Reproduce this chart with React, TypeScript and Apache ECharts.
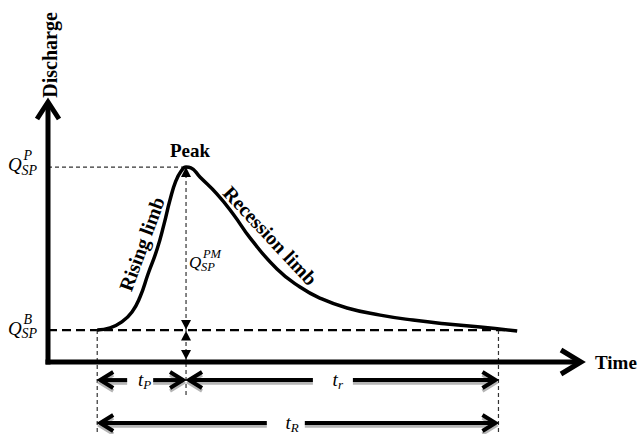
import React, { useEffect, useRef } from "react";
import * as echarts from "echarts";

// ---- Data (time and discharge in arbitrary units) ----
const curveTime = [9.2, 11.6, 13.8, 15.7, 17.2, 18.7, 20.4, 21.7, 22.8, 23.9, 24.9, 25.8, 26.7, 28.4, 31.6, 34.6, 37.8, 42.8, 47.1, 50.8, 55.9, 62.1, 68.2, 74.6, 80.8, 87.7];
const curveDischarge = [12.2, 13.0, 15.3, 19.1, 24.8, 33.6, 43.1, 52.7, 61.8, 69.1, 72.9, 74.4, 74.1, 70.6, 64.1, 56.5, 47.3, 35.5, 28.6, 24.4, 20.6, 17.9, 16.0, 14.5, 13.4, 11.8];

const baseDischarge = 12.2;
const peakDischarge = 74.4;
const peakTime = 25.8;
const riseStartTime = 9.2;
const recessionEndTime = 84.2;
const axisMax = 100;

const axisTitles = ["Discharge", "Time"];
const curveLabels = ["Peak", "Rising limb", "Recession limb"];
const dischargeLabelSup = ["P", "B", "PM"];
const dischargeLabelSub = ["SP", "SP", "SP"];

const durationSubs = ["P", "r", "R"];
const durationStart = [riseStartTime, peakTime, riseStartTime];
const durationEnd = [peakTime, recessionEndTime, recessionEndTime];

// ---- styling / layout helpers ----
const SERIF = '"Liberation Serif", "Times New Roman", serif';
const durationLevel = [-6.9, -6.9, -23.3];
const durationLabelTime = [17.6, 54.0, 45.2];
const durationGapLeft = [15, 24, 23];
const durationGapRight = [11, 16, 15];

type Pt = number[];

const seg = (a: Pt, b: Pt, style: any) => ({
  type: "line",
  shape: { x1: a[0], y1: a[1], x2: b[0], y2: b[1] },
  style,
});

const chevron = (tip: Pt, dir: Pt, back: number, half: number): Pt[] => {
  const [dx, dy] = dir;
  const nx = -dy;
  const ny = dx;
  return [
    [tip[0] - dx * back + nx * half, tip[1] - dy * back + ny * half],
    [tip[0], tip[1]],
    [tip[0] - dx * back - nx * half, tip[1] - dy * back - ny * half],
  ];
};

const txt = (s: string, x: number, y: number, o: any = {}) => ({
  type: "text",
  x,
  y,
  rotation: o.rotation || 0,
  style: {
    text: s,
    fill: "#000",
    fontFamily: SERIF,
    fontSize: o.size || 18,
    fontWeight: o.weight || "normal",
    fontStyle: o.fontStyle || "normal",
    align: o.align || "center",
    verticalAlign: o.va || "middle",
    textAlign: o.align || "center",
    textVerticalAlign: o.va || "middle",
  },
});

const qLabel = (x: number, y: number, sup: string, sub: string, big: number) => {
  const s = big / 19;
  const small = 14 * s;
  return [
    txt("Q", x, y, { size: big, fontStyle: "italic", align: "left" }),
    txt(sup, x + 15.5 * s, y - 9 * s, { size: small, fontStyle: "italic", align: "left" }),
    txt(sub, x + 13.5 * s, y + 5.5 * s, { size: small, fontStyle: "italic", align: "left" }),
  ];
};

function renderGuides(_params: any, api: any) {
  const p = (t: number, q: number): Pt => api.coord([t, q]);
  const thin = { stroke: "#333", lineWidth: 1.2, lineDash: [4, 3] };
  const lastT = curveTime[curveTime.length - 1];
  return {
    type: "group",
    children: [
      seg(p(0, peakDischarge), p(peakTime, peakDischarge), thin),
      seg(p(0, baseDischarge), p(lastT - 1, baseDischarge), { stroke: "#000", lineWidth: 2.2, lineDash: [9, 5] }),
      seg(p(riseStartTime, baseDischarge), p(riseStartTime, -27), thin),
      seg(p(peakTime, peakDischarge), p(peakTime, -12.6), thin),
      seg(p(recessionEndTime, baseDischarge), p(recessionEndTime, -27), thin),
    ],
  };
}

function renderAnnotations(_params: any, api: any) {
  const p = (t: number, q: number): Pt => api.coord([t, q]);
  const children: any[] = [];
  const axisStyle = { stroke: "#000", lineWidth: 5, lineJoin: "miter", lineCap: "butt", fill: null };

  // axes with open arrowheads
  const o = p(0, 0);
  const yTop = p(0, axisMax);
  const xEnd = p(axisMax, 0);
  children.push(seg([o[0], o[1] + 2.5], [yTop[0], yTop[1] + 2], axisStyle));
  children.push({ type: "polyline", shape: { points: chevron([yTop[0], yTop[1] + 2], [0, -1], 17, 11) }, style: axisStyle });
  children.push(seg([o[0] - 2.5, o[1]], [xEnd[0] - 2, xEnd[1]], axisStyle));
  children.push({ type: "polyline", shape: { points: chevron([xEnd[0] - 2, xEnd[1]], [1, 0], 20, 12) }, style: axisStyle });

  // axis titles
  children.push(txt(axisTitles[0], yTop[0] + 2, yTop[1] - 45, { size: 20, weight: "bold", rotation: Math.PI / 2 }));
  children.push(txt(axisTitles[1], xEnd[0] + 12, xEnd[1], { size: 19, weight: "bold", align: "left" }));

  // curve labels
  const pk = p(peakTime, peakDischarge);
  children.push(txt(curveLabels[0], pk[0] + 4, pk[1] - 17, { size: 19, weight: "bold" }));
  const rl = p(17.8, 44.7);
  children.push(txt(curveLabels[1], rl[0] - 1.5, rl[1] - 1, { size: 20, weight: "bold", rotation: (70 * Math.PI) / 180 }));
  const rc = p(40.9, 46.9);
  children.push(txt(curveLabels[2], rc[0] + 3.5, rc[1] - 3.5, { size: 20, weight: "bold", rotation: (-47 * Math.PI) / 180 }));

  // discharge labels
  const qp = p(0, peakDischarge);
  children.push(...qLabel(qp[0] - 40, qp[1] - 2.5, dischargeLabelSup[0], dischargeLabelSub[0], 19));
  const qb = p(0, baseDischarge);
  children.push(...qLabel(qb[0] - 40, qb[1] - 2, dischargeLabelSup[1], dischargeLabelSub[1], 19));
  const qm = p(peakTime, 38);
  children.push(...qLabel(qm[0] + 3, qm[1], dischargeLabelSup[2], dischargeLabelSub[2], 17));

  // small filled triangles on the peak-magnitude line
  const b = p(peakTime, baseDischarge);
  const tri = (pts: Pt[]) => ({ type: "polygon", shape: { points: pts }, style: { fill: "#000" } });
  children.push(tri([[pk[0], pk[1]], [pk[0] - 5, pk[1] + 10], [pk[0] + 5, pk[1] + 10]]));
  children.push(tri([[b[0], b[1] - 0.5], [b[0] - 5, b[1] - 10], [b[0] + 5, b[1] - 10]]));
  children.push(tri([[b[0], b[1] + 1], [b[0] - 5, b[1] + 10.5], [b[0] + 5, b[1] + 10.5]]));
  const ax = p(peakTime, 0);
  children.push(tri([[ax[0], ax[1] - 2.5], [ax[0] - 5, ax[1] - 12], [ax[0] + 5, ax[1] - 12]]));

  // duration arrows (with a soft grey drop shadow drawn underneath)
  const arrowStyle = { stroke: "#000", lineWidth: 4, lineJoin: "miter", lineCap: "butt", fill: null };
  const shadowStyle = { stroke: "#b5b5b5", lineWidth: 3.5, lineJoin: "miter", lineCap: "butt", fill: null };
  const shift = (pts: Pt[], d: number) => pts.map((q) => [q[0], q[1] + d]);
  for (let i = 0; i < durationSubs.length; i++) {
    const y = p(0, durationLevel[i])[1];
    const x1 = p(durationStart[i], 0)[0];
    const x2 = p(durationEnd[i], 0)[0];
    const xs = p(durationLabelTime[i], 0)[0];
    const leftShaft = [[xs - durationGapLeft[i], y], [x1 + 3, y]];
    const rightShaft = [[xs + durationGapRight[i], y], [x2 - 3, y]];
    const leftHead = chevron([x1 + 3, y], [-1, 0], 13, 8);
    const rightHead = chevron([x2 - 3, y], [1, 0], 13, 8);
    for (const pts of [leftShaft, rightShaft, leftHead, rightHead]) {
      children.push({ type: "polyline", shape: { points: shift(pts, 3) }, style: shadowStyle });
    }
    for (const pts of [leftShaft, rightShaft, leftHead, rightHead]) {
      children.push({ type: "polyline", shape: { points: pts }, style: arrowStyle });
    }
    children.push(txt("t", xs + 1, y - 1, { size: 19, fontStyle: "italic", align: "right" }));
    children.push(txt(durationSubs[i], xs + 1, y + 4, { size: 13, fontStyle: "italic", align: "left" }));
  }

  return { type: "group", children };
}

export default function App() {
  const ref = useRef<HTMLDivElement>(null);
  useEffect(() => {
    const chart = echarts.init(ref.current as HTMLDivElement, null, { renderer: "svg" });
    chart.setOption({
      animation: false,
      backgroundColor: "#ffffff",
      grid: { left: 48, right: 57, top: 100, bottom: 72 },
      xAxis: { type: "value", min: 0, max: axisMax, show: false },
      yAxis: { type: "value", min: 0, max: axisMax, show: false },
      series: [
        { type: "custom", name: "guides", renderItem: renderGuides, data: [[0, 0]], z: 1, silent: true, clip: false },
        {
          type: "line",
          name: "Hydrograph",
          data: curveTime.map((t, i) => [t, curveDischarge[i]]),
          smooth: 0.5,
          symbol: "none",
          showSymbol: false,
          silent: true,
          z: 2,
          lineStyle: { color: "#000", width: 3.5, join: "round" },
        },
        { type: "custom", name: "annotations", renderItem: renderAnnotations, data: [[0, 0]], z: 3, silent: true, clip: false },
      ],
    });
    return () => chart.dispose();
  }, []);
  return (
    <div
      ref={ref}
      style={{ position: "fixed", left: 0, top: 0, width: 640, height: 434, background: "#fff" }}
    />
  );
}
